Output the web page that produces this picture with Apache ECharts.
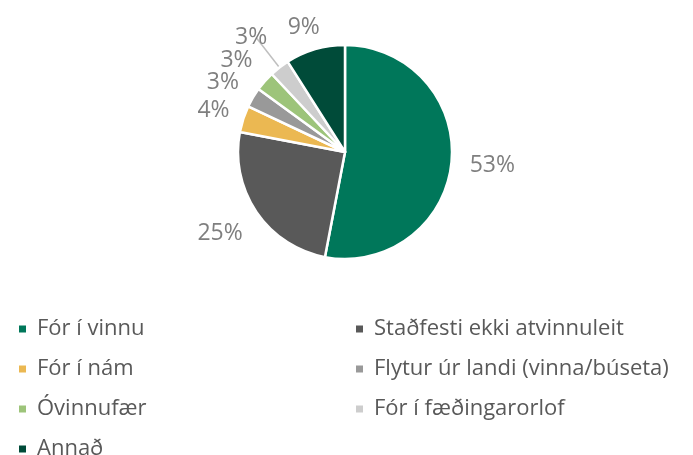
<!DOCTYPE html>
<html>
<head>
<meta charset="utf-8">
<script src="https://cdn.jsdelivr.net/npm/echarts@6/dist/echarts.min.js"></script>
<style>
html,body{margin:0;padding:0;background:#fff;}
#chart{width:693px;height:455px;}
</style>
</head>
<body>
<div id="chart"></div>
<script>
// flokkar og gildi (%)
var categories = ['Fór í vinnu', 'Staðfesti ekki atvinnuleit', 'Fór í nám', 'Flytur úr landi (vinna/búseta)', 'Óvinnufær', 'Fór í fæðingarorlof', 'Annað'];
var values = [53, 25, 4, 3, 3, 3, 9];
var colors = ['#00775A', '#595959', '#EBB852', '#999999', '#9DC47A', '#CDCDCD', '#004B39'];
// fjarlægð merkimiða frá sneið
var labelGaps = [36, 38, 26, 29, 31, 38, 23];

var legendLeft = ['Fór í vinnu', 'Fór í nám', 'Óvinnufær', 'Annað'];
var legendRight = ['Staðfesti ekki atvinnuleit', 'Flytur úr landi (vinna/búseta)', 'Fór í fæðingarorlof'];

var fontName = '"Open Sans", "Noto Sans", sans-serif';
var pieCenter = [345, 152];

var legendStyle = {
    orient: 'vertical',
    top: 318,
    height: 170,
    padding: 0,
    itemWidth: 9,
    itemHeight: 9,
    itemGap: 18,
    icon: 'rect',
    textStyle: { color: '#595959', fontSize: 22, fontFamily: fontName, padding: [0, 0, 0, 5] }
};

var pieData = [];
for (var i = 0; i < categories.length; i++) {
    var item = {
        value: values[i],
        name: categories[i],
        itemStyle: { color: colors[i] },
        labelLine: { show: false, length: labelGaps[i], length2: 0 }
    };
    if (categories[i] == 'Fór í fæðingarorlof') {
        item.labelLine = { show: true, length: labelGaps[i], length2: 0, lineStyle: { color: '#BFBFBF', width: 1.5 } };
    }
    pieData.push(item);
}

var option = {
    animation: false,
    legend: [
        Object.assign({ left: 17, data: legendLeft }, legendStyle),
        Object.assign({ left: 354, data: legendRight }, legendStyle)
    ],
    series: [
        {
            type: 'pie',
            center: pieCenter,
            radius: [0, 107],
            startAngle: 90,
            clockwise: true,
            avoidLabelOverlap: false,
            itemStyle: { borderColor: '#fff', borderWidth: 2.5 },
            label: {
                show: true,
                position: 'outside',
                formatter: '{c}%',
                color: '#7F7F7F',
                fontSize: 23,
                fontFamily: fontName
            },
            // miðja merkimiða á geislanum eins og í Excel
            labelLayout: function (params) {
                var r = params.labelRect;
                var left = r.x + r.width / 2 < pieCenter[0];
                return { dx: left ? r.width / 2 : -r.width / 2, hideOverlap: false };
            },
            data: pieData
        }
    ]
};

var chart = echarts.init(document.getElementById('chart'));
chart.setOption(option);
</script>
</body>
</html>
